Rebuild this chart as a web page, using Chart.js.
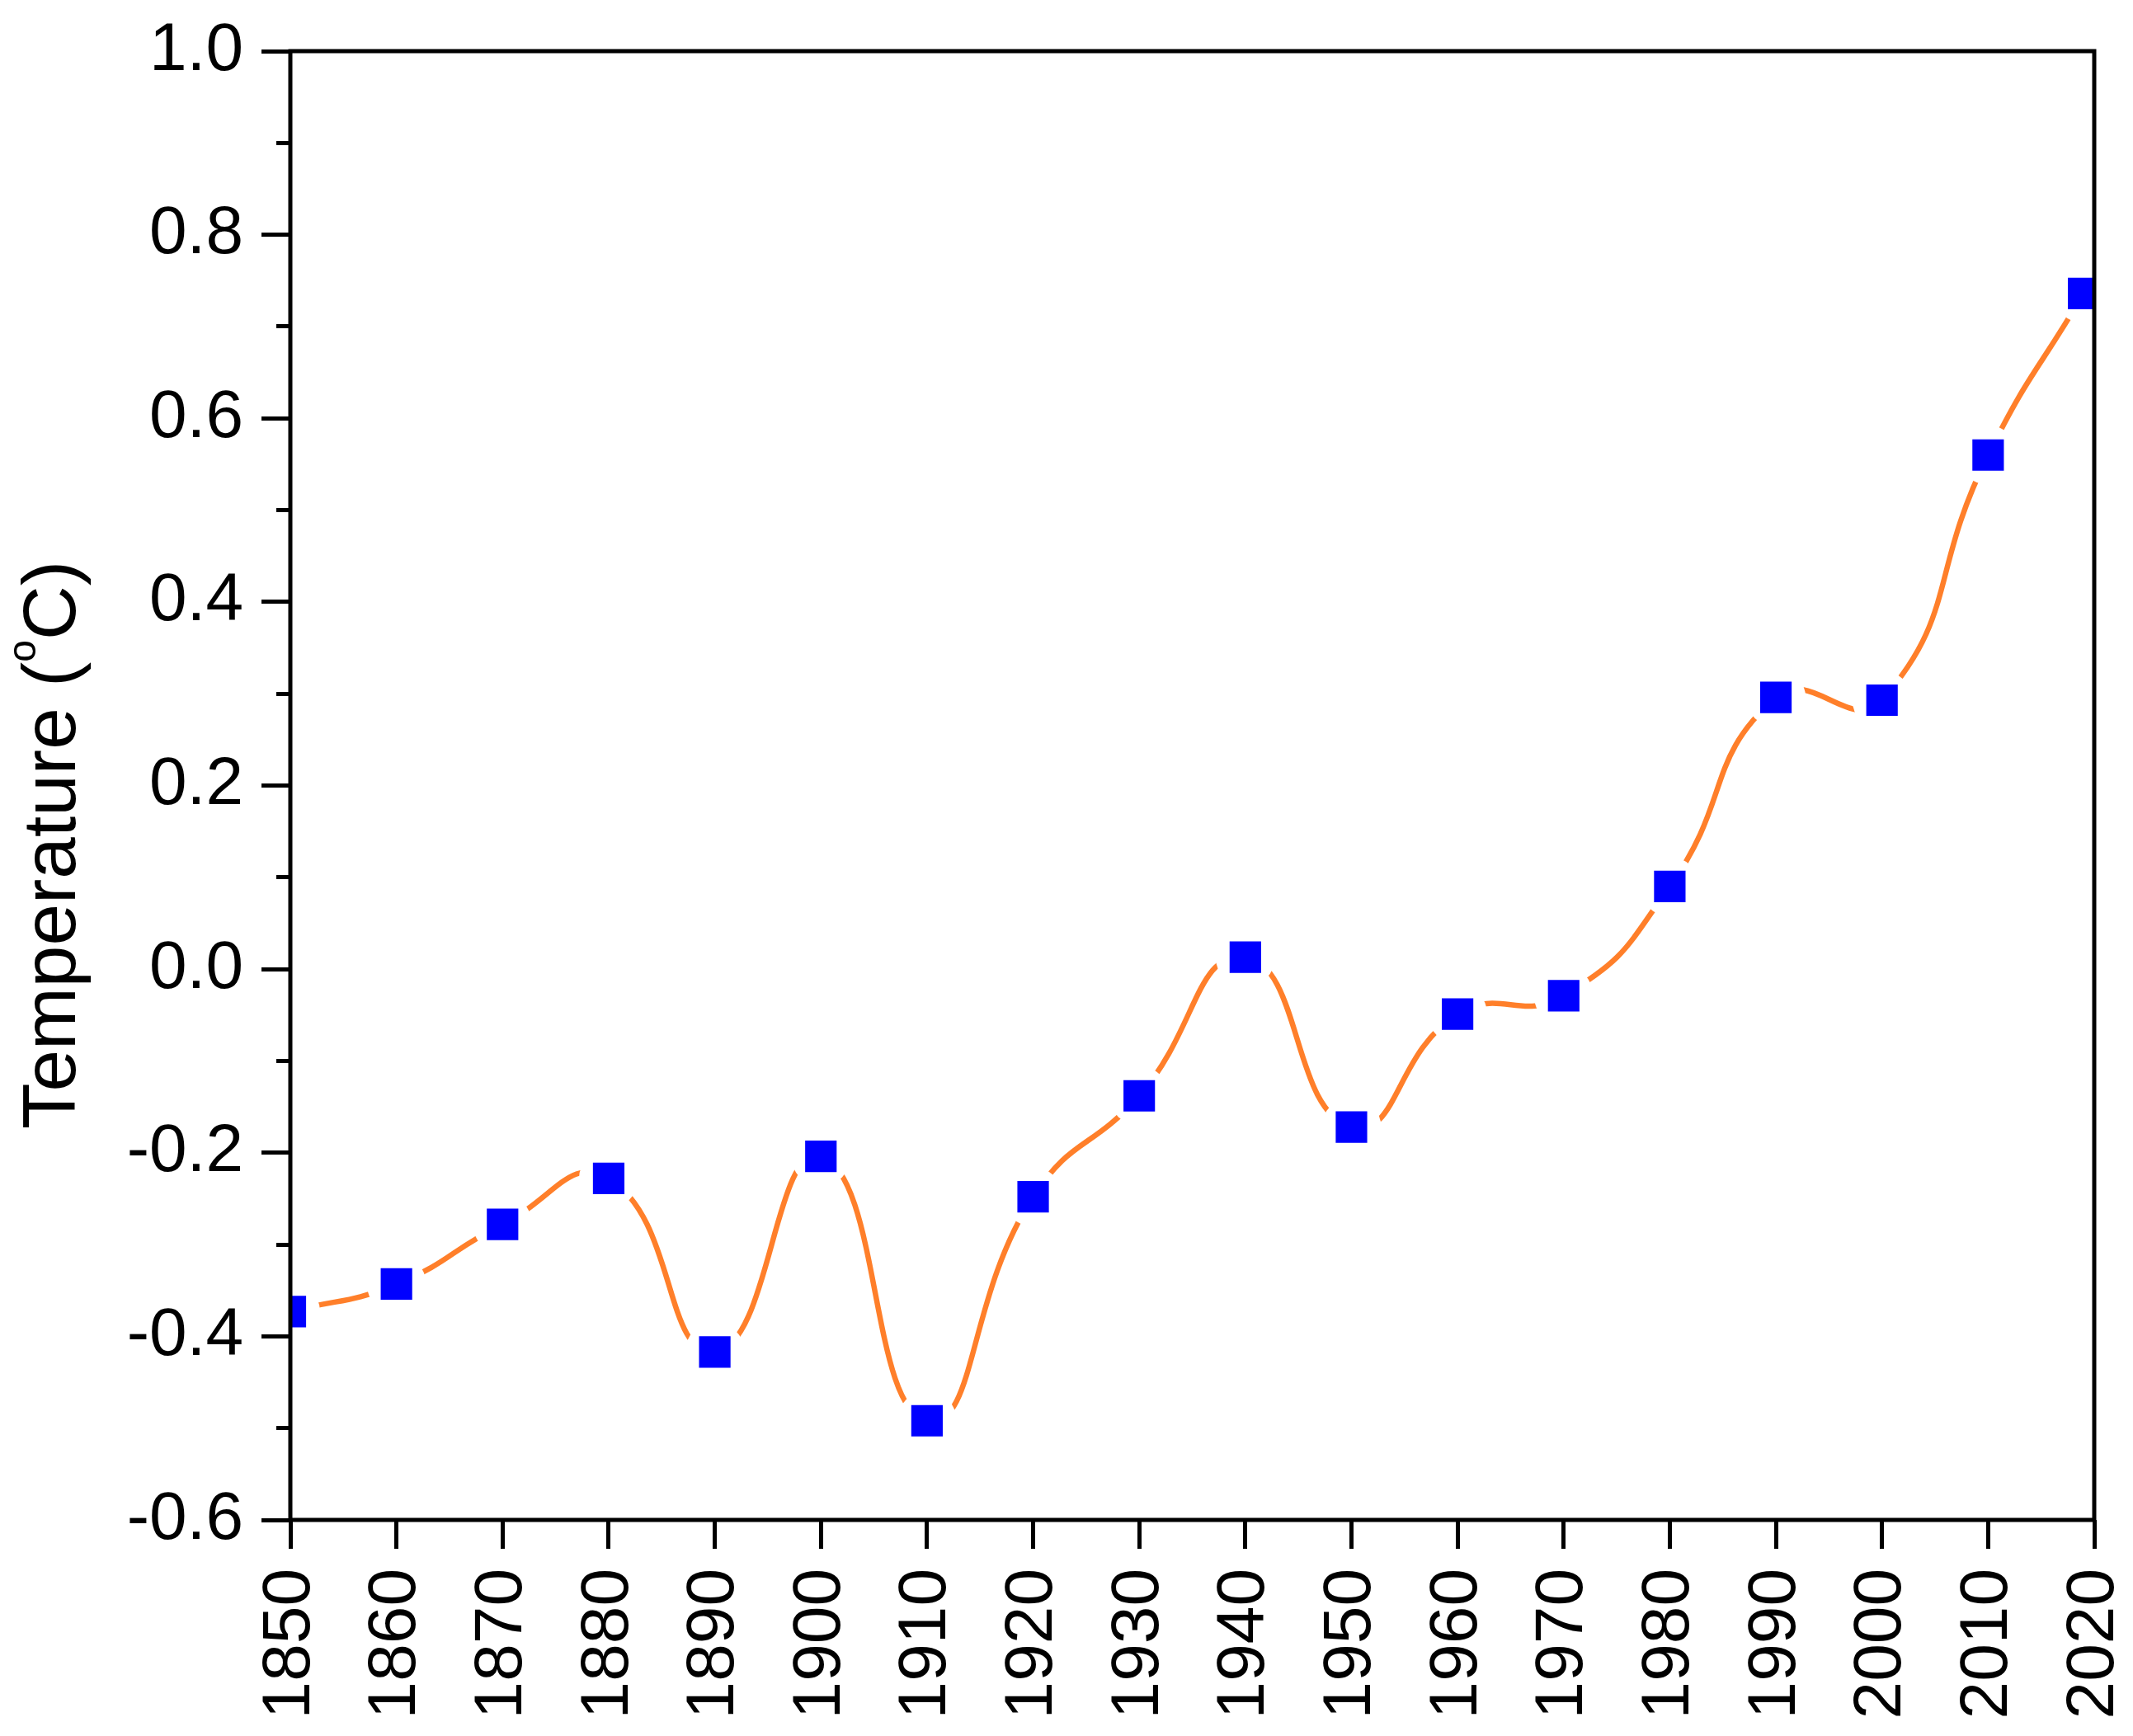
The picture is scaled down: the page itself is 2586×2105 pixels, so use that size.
<!DOCTYPE html>
<html>
<head>
<meta charset="utf-8">
<script src="https://cdn.jsdelivr.net/npm/chart.js@4.4.1/dist/chart.umd.min.js"></script>
<style>
    html, body { margin: 0; padding: 0; background: #fff; }
    #wrap { width: 2586px; height: 2105px; position: relative; }
</style>
</head>
<body>
<div id="wrap"><canvas id="tempChart"></canvas></div>
<script>
// values
const years = [1850, 1860, 1870, 1880, 1890, 1900, 1910, 1920, 1930, 1940, 1950, 1960, 1970, 1980, 1990, 2000, 2010, 2019];
const temps = [-0.373, -0.343, -0.278, -0.228, -0.417, -0.204, -0.492, -0.248, -0.138, 0.013, -0.172, -0.049, -0.029, 0.090, 0.296, 0.293, 0.560, 0.736];

const xMin = 1850, xMax = 2020, xStep = 10;
const yMin = -0.6, yMax = 1.0, yStep = 0.1;

const FONT = '"Liberation Sans", Arial, sans-serif';
const lineColor = '#FF7F2A';
const markerColor = '#0000FF';

const points = years.map((yr, i) => ({ x: yr, y: temps[i] }));

function isMinor(v) {
    return Math.abs(Math.round(v * 10)) % 2 === 1;
}

// plot frame drawn on top of the data (like the Origin box)
const framePlugin = {
    id: 'frame',
    afterDatasetsDraw(chart) {
        const { ctx, chartArea: a } = chart;
        ctx.save();
        ctx.strokeStyle = '#000';
        ctx.lineWidth = 5;
        ctx.strokeRect(a.left, a.top, a.right - a.left, a.bottom - a.top);
        ctx.restore();
    }
};

// y title with a superscript "o"
const yTitlePlugin = {
    id: 'yTitle',
    afterDraw(chart) {
        const { ctx, chartArea: a } = chart;
        const main = 91, sup = 48;
        const part1 = 'Temperature (', part2 = 'o', part3 = 'C)';
        ctx.save();
        ctx.fillStyle = '#000';
        ctx.textBaseline = 'alphabetic';
        ctx.font = main + 'px ' + FONT;
        const w1 = ctx.measureText(part1).width;
        const w3 = ctx.measureText(part3).width;
        ctx.font = sup + 'px ' + FONT;
        const w2 = ctx.measureText(part2).width;
        const total = w1 + w2 + w3;
        const cy = (a.top + a.bottom) / 2 + 72;
        ctx.translate(91, cy);
        ctx.rotate(-Math.PI / 2);
        let x = -total / 2;
        ctx.font = main + 'px ' + FONT;
        ctx.fillText(part1, x, 0);
        x += w1;
        ctx.font = sup + 'px ' + FONT;
        ctx.fillText(part2, x, -48);
        x += w2;
        ctx.font = main + 'px ' + FONT;
        ctx.fillText(part3, x, 0);
        ctx.restore();
    }
};

new Chart(document.getElementById('tempChart'), {
    type: 'line',
    data: {
        datasets: [
            {
                // blue square markers
                data: points,
                showLine: false,
                pointStyle: 'rect',
                pointRadius: 27,
                pointBackgroundColor: markerColor,
                pointBorderWidth: 0,
                order: 0,
                clip: 0
            },
            {
                // orange spline, with white gaps round each marker
                data: points,
                borderColor: lineColor,
                borderWidth: 6.5,
                tension: 0.5,
                pointStyle: 'circle',
                pointRadius: 36,
                pointBackgroundColor: '#ffffff',
                pointBorderWidth: 0,
                order: 1,
                clip: 0
            }
        ]
    },
    options: {
        responsive: true,
        maintainAspectRatio: false,
        animation: false,
        events: [],
        layout: { padding: { top: 62, right: 47, left: 0, bottom: 0 } },
        plugins: {
            legend: { display: false },
            tooltip: { enabled: false }
        },
        scales: {
            x: {
                type: 'linear',
                min: xMin,
                max: xMax,
                afterFit: (scale) => {
                    scale.height = 262;
                    scale.paddingLeft = 0;
                    scale.paddingRight = 0;
                },
                border: { display: false },
                grid: {
                    drawOnChartArea: false,
                    drawTicks: true,
                    tickLength: 35,
                    tickWidth: 5,
                    tickColor: '#000'
                },
                ticks: {
                    stepSize: xStep,
                    autoSkip: false,
                    minRotation: 90,
                    maxRotation: 90,
                    padding: 24,
                    color: '#000',
                    font: { family: FONT, size: 82 },
                    callback: (v) => String(v)
                }
            },
            y: {
                type: 'linear',
                min: yMin,
                max: yMax,
                afterFit: (scale) => {
                    scale.width = 352;
                    scale.paddingTop = 0;
                    scale.paddingBottom = 0;
                },
                border: { display: false },
                grid: {
                    drawOnChartArea: false,
                    drawTicks: true,
                    tickLength: 35,
                    tickWidth: 5,
                    tickColor: '#000',
                    tickBorderDash: (ctx) => (ctx.tick && isMinor(ctx.tick.value)) ? [0, 18, 17, 0] : []
                },
                ticks: {
                    stepSize: yStep,
                    padding: 22,
                    color: '#000',
                    font: { family: FONT, size: 82 },
                    callback: (v) => {
                        if (isMinor(v)) return '';
                        const r = Math.round(v * 10) / 10;
                        return (Math.abs(r) < 1e-9 ? 0 : r).toFixed(1);
                    }
                }
            }
        }
    },
    plugins: [framePlugin, yTitlePlugin]
});
</script>
</body>
</html>
